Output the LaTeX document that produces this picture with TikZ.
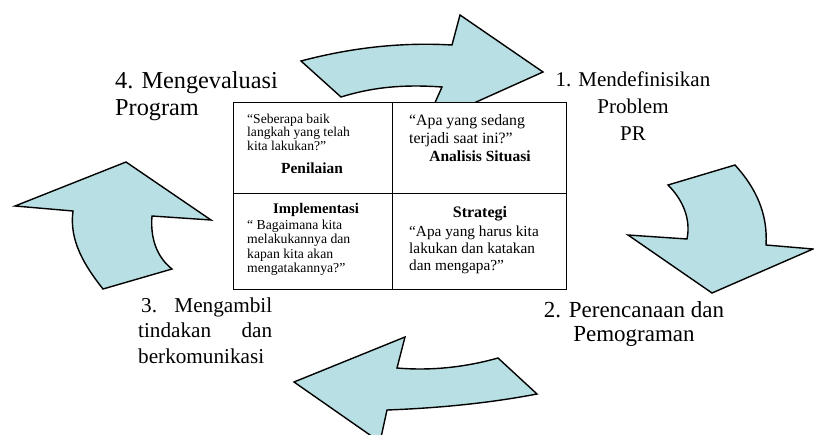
\documentclass[tikz,border=0pt]{standalone}
\usepackage{fontspec}
\setmainfont{Liberation Serif}
\definecolor{arrowcyan}{RGB}{184,223,227}

\begin{document}
\begin{tikzpicture}[x=1pt, y=-1pt,
  bigarrow/.style={fill=arrowcyan, draw=black, line width=1.4pt, line join=miter},
  steptext/.style={inner sep=0pt},
  celltext/.style={inner sep=0pt, align=left, anchor=north west},
  celltitle/.style={inner sep=0pt, anchor=base}]
\useasboundingbox (0,0) rectangle (814,434);
\clip (0,0) rectangle (814,434);
% the four curved arrows
\draw[bigarrow] (301,61) .. controls (350,48) and (400,42) .. (452,45) -- (460,15) -- (543,72)
  -- (425,125) -- (442,87) .. controls (400,84) and (370,88) .. (341,97) -- cycle;
\draw[bigarrow] (668,185) -- (735,165) .. controls (756,188) and (768,214) .. (766,245) -- (813,249)
  -- (712,293) -- (628,235) -- (687,239) .. controls (691,219) and (683,200) .. (668,185) -- cycle;
\draw[bigarrow] (294,382) -- (405,337) -- (397,368) .. controls (432,371) and (466,367) .. (498,358)
  -- (537,394) .. controls (490,403) and (440,408) .. (387,410) -- (380,442) -- cycle;
\draw[bigarrow] (15,206) -- (126,162) -- (211,220) -- (152,216) .. controls (150,240) and (158,258) .. (172,269)
  -- (103,289) .. controls (84,265) and (69,240) .. (73,211) -- cycle;
% table
\coordinate (tl) at (233,102);
\coordinate (br) at (566,289);
\draw[fill=white, line width=1pt] (tl) rectangle (br);
\draw[line width=1pt] (392,102) -- (392,289) (233,193) -- (566,193);
% cell texts
\node[celltext, font=\fontsize{13.6}{13.5}\selectfont] (seberapa) at (247,113.7)
  {“Seberapa baik\\langkah yang telah\\kita lakukan?”};
\node[celltitle, font=\fontsize{15.4}{18}\selectfont\bfseries] (penilaian) at (312,173) {Penilaian};
\node[celltext, font=\fontsize{15.8}{18}\selectfont] (sedang) at (409,114)
  {“Apa yang sedang\\terjadi saat ini?”};
\node[celltitle, font=\fontsize{15.5}{18}\selectfont\bfseries] (analisis) at (480,161) {Analisis Situasi};
\node[celltitle, font=\fontsize{14.7}{18}\selectfont\bfseries] (implementasi) at (316,213) {Implementasi};
\node[celltext, font=\fontsize{13.7}{14.5}\selectfont] (bagaimana) at (247,219.6)
  {“ Bagaimana kita\\melakukannya dan\\kapan kita akan\\mengatakannya?”};
\node[celltitle, font=\fontsize{16}{18}\selectfont\bfseries] (strategi) at (480,217) {Strategi};
\node[celltext, font=\fontsize{15.3}{17}\selectfont] (harus) at (409,225.5)
  {“Apa yang harus kita\\lakukan dan katakan\\dan mengapa?”};
% step labels
\node[steptext, align=center, anchor=north, font=\fontsize{21}{27}\selectfont] (step1) at (633,71.5)
  {1. Mendefinisikan\\Problem\\PR};
\node[steptext, align=center, anchor=north, font=\fontsize{23}{24}\selectfont] (step2) at (634,301)
  {2. Perencanaan dan\\Pemograman};
\node[steptext, text width=134pt, align=justify, anchor=north west, font=\fontsize{21.2}{25.5}\selectfont] (step3) at (138,297.5)
  {\hspace*{3pt}3. Mengambil\linebreak tindakan dan\linebreak berkomunikasi};
\node[steptext, align=left, anchor=north west, font=\fontsize{24.3}{27}\selectfont] (step4) at (115,71.5)
  {4. Mengevaluasi\\Program};
\end{tikzpicture}
\end{document}
